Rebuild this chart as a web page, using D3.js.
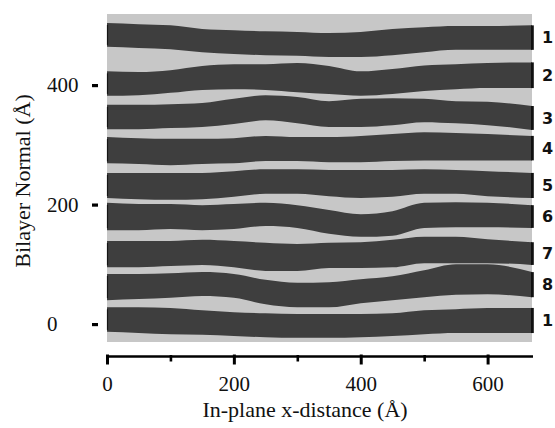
<!DOCTYPE html>
<html>
<head>
<meta charset="utf-8">
<script src="https://cdn.jsdelivr.net/npm/d3@7/dist/d3.min.js"></script>
<style>
  html, body { margin: 0; padding: 0; background: #ffffff; }
  svg { display: block; }
</style>
</head>
<body>
<svg id="chart" width="555" height="428"></svg>
<script>
// ---------- data ----------
const xPositions = [0, 50, 100, 150, 200, 250, 300, 350, 400, 450, 500, 550, 600, 670];

const bandLabels = ["1", "2", "3", "4", "5", "6", "7", "8", "1"];

const band1Top = [504, 502, 500, 494, 492, 490, 489, 487, 489, 494, 497, 499, 499, 500];
const band1Bot = [464, 462, 460, 455, 452, 450, 449, 447, 447, 450, 455, 459, 459, 459];
const band2Top = [423, 422, 425, 432, 435, 435, 437, 432, 423, 427, 433, 435, 437, 438];
const band2Bot = [382, 383, 387, 392, 393, 392, 388, 385, 382, 385, 390, 393, 395, 395];
const band3Top = [367, 367, 368, 370, 377, 383, 380, 373, 377, 378, 377, 373, 372, 365];
const band3Bot = [326, 326, 328, 330, 335, 341, 336, 330, 330, 333, 338, 336, 333, 325];
const band4Top = [313, 311, 310, 310, 311, 315, 313, 313, 315, 318, 321, 320, 318, 315];
const band4Bot = [269, 268, 266, 268, 269, 273, 273, 271, 271, 273, 274, 274, 274, 274];
const band5Top = [253, 253, 253, 253, 256, 259, 259, 258, 258, 258, 259, 258, 256, 253];
const band5Bot = [211, 209, 208, 209, 213, 218, 218, 214, 211, 213, 218, 218, 214, 211];
const band6Top = [203, 201, 201, 199, 201, 203, 199, 191, 184, 189, 203, 204, 203, 199];
const band6Bot = [157, 157, 159, 157, 159, 164, 161, 151, 146, 148, 161, 162, 162, 161];
const band7Top = [139, 139, 139, 141, 139, 136, 134, 136, 137, 141, 146, 146, 142, 137];
const band7Bot = [95, 95, 97, 99, 95, 89, 89, 94, 94, 95, 102, 102, 102, 99];
const band8Top = [84, 84, 85, 87, 84, 74, 69, 70, 75, 80, 90, 100, 100, 87];
const band8Bot = [40, 42, 44, 47, 44, 33, 28, 28, 35, 40, 45, 49, 50, 45];
const band9Top = [28, 28, 27, 23, 20, 18, 17, 17, 17, 18, 23, 25, 27, 27];
const band9Bot = [-13, -15, -17, -18, -20, -22, -23, -23, -22, -20, -17, -15, -15, -15];

const xMajorTicks = [0, 200, 400, 600];
const xMinorTicks = [100, 300, 500];
const yTicks = [0, 200, 400];

const xDomain = [0, 670];
const yDomain = [-30, 519];

// ---------- build ----------
const bandTops = [band1Top, band2Top, band3Top, band4Top, band5Top, band6Top, band7Top, band8Top, band9Top];
const bandBots = [band1Bot, band2Bot, band3Bot, band4Bot, band5Bot, band6Bot, band7Bot, band8Bot, band9Bot];
const bands = bandLabels.map((lab, i) => ({
  label: lab,
  pts: xPositions.map((x, j) => ({ x: x, top: bandTops[i][j], bot: bandBots[i][j] }))
}));

const svg = d3.select("#chart");
const x = d3.scaleLinear().domain(xDomain).range([107, 532]);
const y = d3.scaleLinear().domain(yDomain).range([342, 14]);

const serif = "'Liberation Serif', 'Times New Roman', serif";

// background
svg.append("rect")
  .attr("x", x(xDomain[0])).attr("y", y(yDomain[1]))
  .attr("width", x(xDomain[1]) - x(xDomain[0]))
  .attr("height", y(yDomain[0]) - y(yDomain[1]))
  .attr("fill", "#c7c7c7");

const area = d3.area()
  .x(d => x(d.x))
  .y0(d => y(d.bot))
  .y1(d => y(d.top))
  .curve(d3.curveMonotoneX);

const g = svg.append("g");
g.selectAll("path.band").data(bands).join("path")
  .attr("class", "band")
  .attr("d", d => area(d.pts))
  .attr("fill", "#3e3e3e");

// left edge marks
g.selectAll("line.left").data(bands).join("line")
  .attr("class", "left")
  .attr("x1", x(xDomain[0]) + 0.5).attr("x2", x(xDomain[0]) + 0.5)
  .attr("y1", d => y(d.pts[0].top) + 2)
  .attr("y2", d => y(d.pts[0].bot) - 2)
  .attr("stroke", "#151515").attr("stroke-width", 1.2);

// right edge bars
g.selectAll("rect.bar").data(bands).join("rect")
  .attr("class", "bar")
  .attr("x", x(xDomain[1]) - 1)
  .attr("width", 2.8)
  .attr("y", d => y(d.pts[d.pts.length - 1].top))
  .attr("height", d => y(d.pts[d.pts.length - 1].bot) - y(d.pts[d.pts.length - 1].top))
  .attr("fill", "#111");

// right labels
g.selectAll("text.lab").data(bands).join("text")
  .attr("class", "lab")
  .attr("x", x(xDomain[1]) + 10)
  .attr("y", d => {
    const p = d.pts[d.pts.length - 1];
    return (y(p.top) + y(p.bot)) / 2;
  })
  .attr("dy", "0.36em")
  .attr("font-family", "'DejaVu Sans', Verdana, sans-serif")
  .attr("font-weight", "bold")
  .attr("font-size", 16)
  .attr("fill", "#111")
  .text(d => d.label);

// x axis
const axisY = 356.5;
const xAxisG = svg.append("g").attr("transform", `translate(0,${axisY})`)
  .call(d3.axisBottom(x).tickValues(xMajorTicks).tickSizeInner(8).tickSizeOuter(0).tickPadding(12)
    .tickFormat(d3.format("d")));
xAxisG.select(".domain").attr("stroke", "#000").attr("stroke-width", 2.4)
  .attr("d", `M${x(xDomain[0]) - 1},0H${x(xDomain[1]) + 1}`);
xAxisG.selectAll(".tick line").attr("stroke", "#000").attr("stroke-width", 3).attr("y1", -2);
xAxisG.selectAll(".tick text").attr("font-family", serif).attr("font-size", 21).attr("fill", "#111");

const xMinorG = svg.append("g").attr("transform", `translate(0,${axisY})`)
  .call(d3.axisBottom(x).tickValues(xMinorTicks).tickSizeInner(5).tickSizeOuter(0).tickFormat(""));
xMinorG.select(".domain").remove();
xMinorG.selectAll(".tick line").attr("stroke", "#000").attr("stroke-width", 2.6).attr("y1", -1.5);

// y axis
const yAxisG = svg.append("g").attr("transform", "translate(98,0)")
  .call(d3.axisLeft(y).tickValues(yTicks).tickSizeInner(6).tickSizeOuter(0).tickFormat(d3.format("d")));
yAxisG.select(".domain").remove();
yAxisG.selectAll(".tick line").attr("stroke", "#000").attr("stroke-width", 3.2);
yAxisG.selectAll(".tick text")
  .attr("text-anchor", "start")
  .attr("x", 47 - 98)
  .attr("font-family", serif).attr("font-size", 21).attr("fill", "#111");

// titles
svg.append("text")
  .attr("x", 305).attr("y", 417)
  .attr("text-anchor", "middle")
  .attr("font-family", serif).attr("font-size", 22).attr("fill", "#111")
  .text("In-plane x-distance (Å)");

svg.append("text")
  .attr("transform", "translate(30,181) rotate(-90)")
  .attr("text-anchor", "middle")
  .attr("font-family", serif).attr("font-size", 22).attr("fill", "#111")
  .text("Bilayer Normal (Å)");
</script>
</body>
</html>
